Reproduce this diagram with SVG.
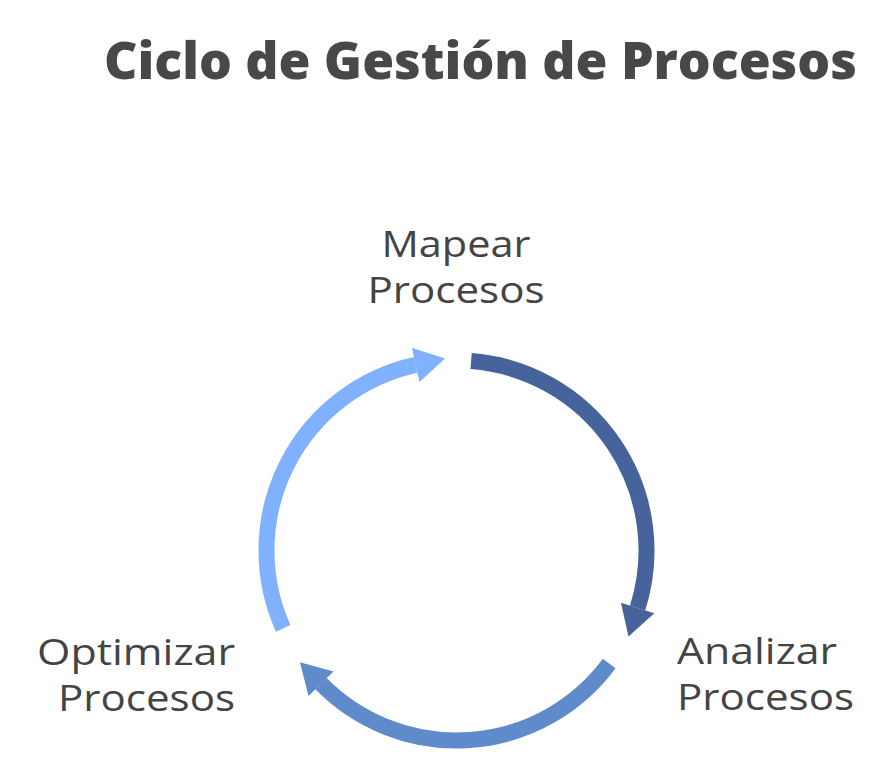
<svg xmlns="http://www.w3.org/2000/svg" width="888" height="777" viewBox="0 0 888 777">
<style>
.title{font-family:"Open Sans","DejaVu Sans",sans-serif;font-weight:800;font-size:52px;fill:#484848}
.lbl{font-family:"Open Sans","DejaVu Sans",sans-serif;font-weight:400;font-size:37px;fill:#444444}
.arc{fill:none;stroke-width:16;stroke-linecap:butt}
</style>
<rect width="888" height="777" fill="#ffffff"/>
<text class="title" x="104" y="79" textLength="753" lengthAdjust="spacingAndGlyphs">Ciclo de Gestión de Procesos</text>
<g id="connectors">
  <g id="arc-mapear-analizar">
    <path class="arc" stroke="#46649b" d="M 471.1 361.1 A 190 190 0 0 1 637.6 608.0"/>
    <polygon fill="#46649b" points="654.3,613.2 628.5,636.6 620.9,602.7"/>
  </g>
  <g id="arc-analizar-optimizar">
    <path class="arc" stroke="#5f8bcb" d="M 609.2 663.5 A 190 190 0 0 1 321.0 683.7"/>
    <polygon fill="#5f8bcb" points="308.5,695.9 300.0,662.3 333.5,671.4"/>
  </g>
  <g id="arc-optimizar-mapear">
    <path class="arc" stroke="#80b1ff" d="M 283.2 628.4 A 190 190 0 0 1 415.7 364.9"/>
    <polygon fill="#80b1ff" points="419.5,382.0 445.0,358.5 411.9,347.8"/>
  </g>
</g>
<g id="node-mapear">
  <text class="lbl" x="456" y="257" text-anchor="middle" textLength="149" lengthAdjust="spacingAndGlyphs">Mapear</text>
  <text class="lbl" x="456" y="303" text-anchor="middle" textLength="177" lengthAdjust="spacingAndGlyphs">Procesos</text>
</g>
<g id="node-analizar">
  <text class="lbl" x="677" y="664" textLength="160" lengthAdjust="spacingAndGlyphs">Analizar</text>
  <text class="lbl" x="677" y="710" textLength="177" lengthAdjust="spacingAndGlyphs">Procesos</text>
</g>
<g id="node-optimizar">
  <text class="lbl" x="235" y="665" text-anchor="end" textLength="198" lengthAdjust="spacingAndGlyphs">Optimizar</text>
  <text class="lbl" x="235" y="711" text-anchor="end" textLength="177" lengthAdjust="spacingAndGlyphs">Procesos</text>
</g>
</svg>
